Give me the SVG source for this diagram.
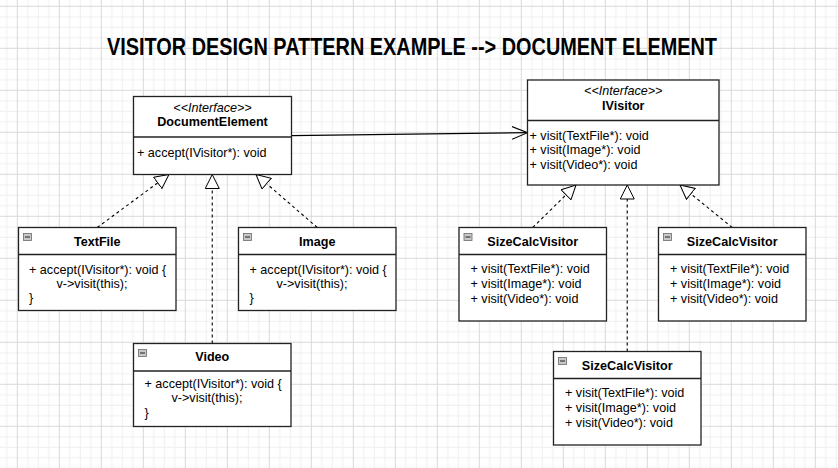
<svg xmlns="http://www.w3.org/2000/svg" width="838" height="468" viewBox="0 0 838 468">
<style>
text{font-family:"Liberation Sans",Arial,Helvetica,sans-serif;font-size:12.6px;fill:#000}
.b{font-weight:bold}
.i{font-style:italic}
.m{text-anchor:middle}
.box{fill:#fff;stroke:#222;stroke-width:1.3}
.div{stroke:#222;stroke-width:1.3;fill:none}
.ic{fill:#c8c8c8;stroke:#6a6a6a;stroke-width:0.8}
.icm{stroke:#222;stroke-width:1}
.dash{fill:none;stroke:#000;stroke-width:1.1;stroke-dasharray:3 3;marker-end:url(#tri)}
.assoc{fill:none;stroke:#000;stroke-width:1.2;marker-end:url(#open)}
</style>
<defs>
<pattern id="grid" x="16.8" y="5.8" width="42" height="42" patternUnits="userSpaceOnUse">
<path d="M11 0V42M21.5 0V42M32 0V42M0 11H42M0 21.5H42M0 32H42" stroke="#efefef" stroke-width="1" fill="none"/>
<path d="M0.5 0V42M0 0.5H42" stroke="#d9d9d9" stroke-width="1" fill="none"/>
</pattern>
<marker id="tri" viewBox="0 0 15 15" markerWidth="15" markerHeight="15" refX="14.5" refY="7.5" orient="auto" markerUnits="userSpaceOnUse">
<path d="M0.5,0.5 L14.5,7.5 L0.5,14.5 Z" fill="#fff" stroke="#000" stroke-width="1" stroke-dasharray="none"/>
</marker>
<marker id="open" viewBox="0 0 16 14" markerWidth="16" markerHeight="14" refX="15.5" refY="7" orient="auto" markerUnits="userSpaceOnUse">
<path d="M0,0.7 L15.5,7 L0,13.3" fill="none" stroke="#000" stroke-width="1.1"/>
</marker>
</defs>
<rect width="838" height="468" fill="#fff"/>
<rect width="838" height="468" fill="url(#grid)"/>

<text class="b" x="107" y="55" font-size="23" textLength="610" lengthAdjust="spacingAndGlyphs" style="font-size:23px">VISITOR DESIGN PATTERN EXAMPLE --&gt; DOCUMENT ELEMENT</text>

<g id="connectors">
<path class="dash" d="M97.25,227.5 L169,174.5"/>
<path class="dash" d="M212.25,343.5 L212.25,174.5"/>
<path class="dash" d="M317.25,227.5 L256,174.5"/>
<path class="dash" d="M532.75,227.5 L576,185"/>
<path class="dash" d="M627.25,351.5 L627.25,185"/>
<path class="dash" d="M732.25,227.5 L680,185"/>
<path class="assoc" d="M291.5,135.7 L527.5,132.7"/>
</g>

<g id="DocumentElement">
<rect class="box" x="133.5" y="96.5" width="158" height="78"/>
<path class="div" d="M133.5,137H291.5"/>
<text class="i m" x="212.5" y="111.5">&lt;&lt;Interface&gt;&gt;</text>
<text class="b m" x="212.5" y="125.5">DocumentElement</text>
<text x="137" y="156.5">+ accept(IVisitor*): void</text>
</g>

<g id="IVisitor">
<rect class="box" x="527.5" y="80" width="191.5" height="105"/>
<path class="div" d="M527.5,120.5H719"/>
<text class="i m" x="623.25" y="94.5">&lt;&lt;Interface&gt;&gt;</text>
<text class="b m" x="623.25" y="110">IVisitor</text>
<text x="529.5" y="139.5">+ visit(TextFile*): void</text>
<text x="529.5" y="154">+ visit(Image*): void</text>
<text x="529.5" y="168.5">+ visit(Video*): void</text>
</g>

<g id="TextFile">
<rect class="box" x="18.5" y="227.5" width="157.5" height="83"/>
<path class="div" d="M18.5,254.5H176"/>
<rect class="ic" x="23.5" y="233.5" width="8" height="7"/>
<path class="icm" d="M25,237H30"/>
<text class="b m" x="97.25" y="245.5">TextFile</text>
<text x="29" y="273.5">+ accept(IVisitor*): void {</text>
<text x="56.5" y="287.5">v-&gt;visit(this);</text>
<text x="29" y="301.5">}</text>
</g>

<g id="Image">
<rect class="box" x="238.5" y="227.5" width="157.5" height="83"/>
<path class="div" d="M238.5,254.5H396"/>
<rect class="ic" x="243.5" y="233.5" width="8" height="7"/>
<path class="icm" d="M245,237H250"/>
<text class="b m" x="317.25" y="245.5">Image</text>
<text x="249.5" y="273.5">+ accept(IVisitor*): void {</text>
<text x="276.5" y="287.5">v-&gt;visit(this);</text>
<text x="249.5" y="301.5">}</text>
</g>

<g id="Video">
<rect class="box" x="133.5" y="343.5" width="157.5" height="83"/>
<path class="div" d="M133.5,371H291"/>
<rect class="ic" x="138.5" y="349.5" width="8" height="7"/>
<path class="icm" d="M140,353H145"/>
<text class="b m" x="212.25" y="361">Video</text>
<text x="144.5" y="388">+ accept(IVisitor*): void {</text>
<text x="171.5" y="402">v-&gt;visit(this);</text>
<text x="144.5" y="416.5">}</text>
</g>

<g id="SizeCalcVisitor1">
<rect class="box" x="459" y="227.5" width="147.5" height="93.5"/>
<path class="div" d="M459,254.5H606.5"/>
<rect class="ic" x="464" y="233.5" width="8" height="7"/>
<path class="icm" d="M465.5,237H470.5"/>
<text class="b m" x="532.75" y="246">SizeCalcVisitor</text>
<text x="470.5" y="273">+ visit(TextFile*): void</text>
<text x="470.5" y="288">+ visit(Image*): void</text>
<text x="470.5" y="302.5">+ visit(Video*): void</text>
</g>

<g id="SizeCalcVisitor2">
<rect class="box" x="658.5" y="227.5" width="147.5" height="93.5"/>
<path class="div" d="M658.5,254.5H806"/>
<rect class="ic" x="663.5" y="233.5" width="8" height="7"/>
<path class="icm" d="M665,237H670"/>
<text class="b m" x="732.25" y="246">SizeCalcVisitor</text>
<text x="670" y="273">+ visit(TextFile*): void</text>
<text x="670" y="288">+ visit(Image*): void</text>
<text x="670" y="302.5">+ visit(Video*): void</text>
</g>

<g id="SizeCalcVisitor3">
<rect class="box" x="553.5" y="351.5" width="147.5" height="93.5"/>
<path class="div" d="M553.5,378.5H701"/>
<rect class="ic" x="558.5" y="357.5" width="8" height="7"/>
<path class="icm" d="M560,361H565"/>
<text class="b m" x="627.25" y="370">SizeCalcVisitor</text>
<text x="565" y="397">+ visit(TextFile*): void</text>
<text x="565" y="412">+ visit(Image*): void</text>
<text x="565" y="426.5">+ visit(Video*): void</text>
</g>
</svg>
